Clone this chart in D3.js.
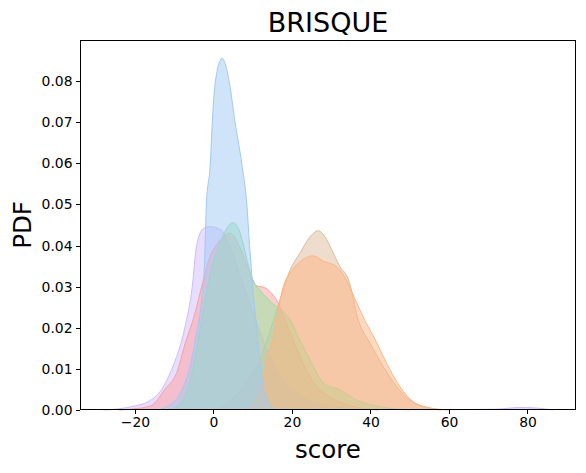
<!DOCTYPE html>
<html>
<head>
<meta charset="utf-8">
<script src="https://cdn.jsdelivr.net/npm/d3@7"></script>
<style>
  body { margin: 0; background: #fff; }
  text { font-family: "DejaVu Sans", sans-serif; fill: #000; }
</style>
</head>
<body>
<div id="chart"></div>
<script>
// KDE curves: [score, pdf]
var blueCurve = [[-14, 0], [-11.9, 0.0008], [-8.5, 0.004], [-6, 0.0105], [-4.3, 0.0187], [-3, 0.0268],
    [-2.3, 0.035], [-1.8, 0.05], [-0.8, 0.06], [-0.3, 0.07], [0.5, 0.08], [2.2, 0.0855], [4, 0.08],
    [5.5, 0.07], [7.2, 0.06], [8.5, 0.05], [9.2, 0.04], [10, 0.03], [11, 0.02], [12, 0.01],
    [13.5, 0.003], [16, 0]];
var orangeCurve = [[8, 0], [10, 0.001], [11.5, 0.004], [12.7, 0.0073], [13.6, 0.0122], [15.7, 0.0195],
    [16.5, 0.0243], [17.8, 0.03], [19.5, 0.0333], [22, 0.036], [25.4, 0.0375], [28, 0.0362],
    [31.4, 0.0349], [33.9, 0.0316], [36.5, 0.026], [39, 0.021], [41, 0.0175], [44.1, 0.0114],
    [47.5, 0.0057], [50.9, 0.002], [54.3, 0.0007], [60, 0]];
var greenCurve = [[-12, 0], [-9, 0.001], [-6, 0.007], [-3.5, 0.019], [-1.5, 0.03],
    [0.4, 0.0375], [1.7, 0.0406], [3.3, 0.044], [4.9, 0.0456], [6.5, 0.0438],
    [7.5, 0.0406], [9.7, 0.0324], [12, 0.029], [15, 0.026], [19.5, 0.022], [22, 0.017],
    [24.6, 0.0122], [28, 0.0066], [32.2, 0.0049], [36.5, 0.0024], [43, 0.0007], [50, 0]];
var redCurve = [[-24, 0], [-20, 0.0003], [-16, 0.001], [-12.4, 0.005], [-9, 0.01], [-7.7, 0.0146],
    [-4.7, 0.0236], [-3, 0.03], [-1, 0.037], [1.5, 0.041], [4.2, 0.043], [7, 0.039], [9, 0.034],
    [11, 0.0302], [13, 0.0298], [14.4, 0.0288], [16.5, 0.026], [18.2, 0.022], [20.3, 0.017],
    [23, 0.011], [26, 0.006], [30, 0.003], [35, 0.001], [42, 0]];
var purpleCurve = [[-28, 0], [-24, 0.0003], [-20, 0.001], [-16.7, 0.002], [-13.2, 0.005], [-10.6, 0.01],
    [-7.3, 0.02], [-5.4, 0.03], [-4.3, 0.04], [-2.5, 0.0442], [-0.9, 0.0446], [2, 0.0438],
    [4, 0.04], [7, 0.032], [10, 0.024], [13, 0.016], [16, 0.01], [20, 0.005], [25, 0.002],
    [30, 0.0008], [40, 0.0002], [60, 0.0001], [72, 0.0002], [78, 0.0006], [82, 0.0005], [86.5, 0]];
var brownCurve = [[0, 0], [4, 0.002], [8, 0.006], [11, 0.0105], [14, 0.018], [17, 0.027], [19.5, 0.034],
    [22, 0.0381], [24.5, 0.042], [26.7, 0.0436], [28.5, 0.042], [30.1, 0.039], [32.2, 0.0349],
    [34.3, 0.032], [36.9, 0.0219], [39.9, 0.0162], [43.3, 0.0105], [46.7, 0.0057], [50, 0.0024],
    [53.4, 0.0008], [58, 0]];

// seaborn pastel, drawn last-to-first so blue ends on top
var seriesCurves = [blueCurve, orangeCurve, greenCurve, redCurve, purpleCurve, brownCurve];
var seriesColors = ["#a1c9f4", "#ffb482", "#8de5a1", "#ff9f9b", "#d0bbff", "#debb9b"];

var xTicks = [-20, 0, 20, 40, 60, 80];
var yTicks = [0, 0.01, 0.02, 0.03, 0.04, 0.05, 0.06, 0.07, 0.08];

var width = 586, height = 473;
var margin = { top: 40, right: 10, bottom: 63, left: 80 };
var plotW = width - margin.left - margin.right;
var plotH = height - margin.top - margin.bottom;

var svg = d3.select("#chart").append("svg")
    .attr("width", width)
    .attr("height", height);

var g = svg.append("g")
    .attr("transform", "translate(" + margin.left + "," + margin.top + ")");

var xScale = d3.scaleLinear().domain([-34.0, 92.36]).range([0, plotW]);
var yScale = d3.scaleLinear().domain([0, 0.09]).range([plotH, 0]);

var area = d3.area()
    .x(function (d) { return xScale(d[0]); })
    .y0(yScale(0))
    .y1(function (d) { return yScale(d[1]); })
    .curve(d3.curveMonotoneX);

var line = d3.line()
    .x(function (d) { return xScale(d[0]); })
    .y(function (d) { return yScale(d[1]); })
    .curve(d3.curveMonotoneX);

// draw densities
for (var i = seriesCurves.length - 1; i >= 0; i--) {
    g.append("path")
        .datum(seriesCurves[i])
        .attr("d", area)
        .attr("fill", seriesColors[i])
        .attr("fill-opacity", 0.5);
    g.append("path")
        .datum(seriesCurves[i])
        .attr("d", line)
        .attr("fill", "none")
        .attr("stroke", seriesColors[i])
        .attr("stroke-width", 1);
}

// axes
var xAxis = d3.axisBottom(xScale).tickValues(xTicks).tickSizeOuter(0).tickSize(4).tickPadding(3.5)
    .tickFormat(function (d) { return d < 0 ? "\u2212" + Math.abs(d) : d; });
var yAxis = d3.axisLeft(yScale).tickValues(yTicks).tickSizeOuter(0).tickSize(4).tickPadding(3.5)
    .tickFormat(d3.format(".2f"));

var gx = g.append("g")
    .attr("transform", "translate(0," + plotH + ")")
    .call(xAxis);
var gy = g.append("g").call(yAxis);

[gx, gy].forEach(function (ax) {
    ax.select(".domain").remove();
    ax.selectAll("line").attr("stroke", "#000").attr("stroke-width", 1)
        .attr("shape-rendering", "crispEdges");
    ax.selectAll("text").style("font-size", "13.9px").attr("fill", "#000");
});

// frame
g.append("rect")
    .attr("x", 0.5).attr("y", 0.5)
    .attr("width", plotW - 1).attr("height", plotH - 1)
    .attr("fill", "none")
    .attr("stroke", "#000")
    .attr("stroke-width", 1)
    .attr("shape-rendering", "crispEdges");

// labels
svg.append("text")
    .attr("x", margin.left + plotW / 2)
    .attr("y", 32)
    .attr("text-anchor", "middle")
    .style("font-size", "27px")
    .text("BRISQUE");

svg.append("text")
    .attr("x", margin.left + plotW / 2)
    .attr("y", 458)
    .attr("text-anchor", "middle")
    .style("font-size", "24.5px")
    .text("score");

svg.append("text")
    .attr("transform", "translate(31," + (margin.top + plotH / 2) + ") rotate(-90)")
    .attr("text-anchor", "middle")
    .style("font-size", "24.5px")
    .text("PDF");
</script>
</body>
</html>
